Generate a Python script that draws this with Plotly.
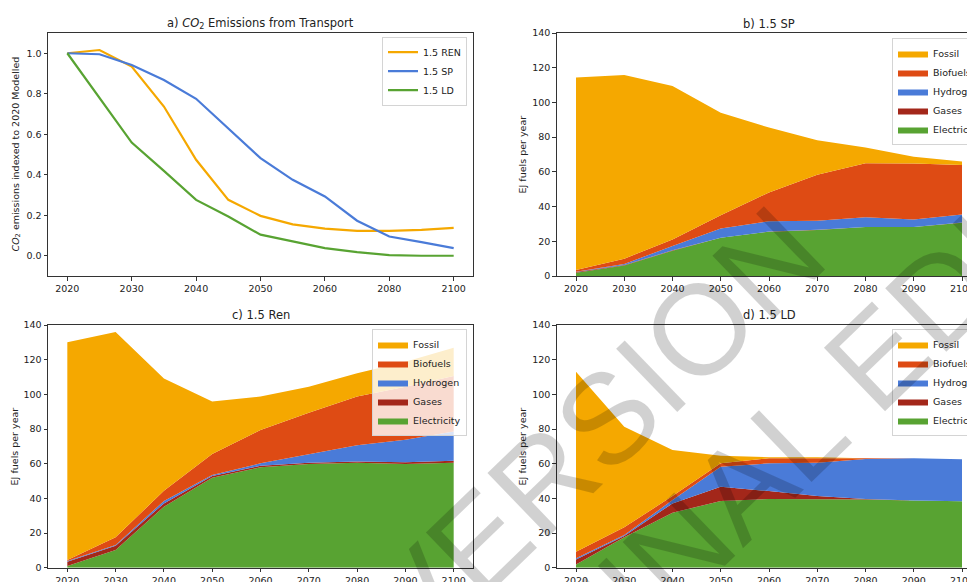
import plotly.graph_objects as go

FONT = "DejaVu Sans"

# ---- data ----
# a) CO2 emissions indexed to 2020
co2_years = ["2020", "2025", "2030", "2035", "2040", "2045", "2050",
             "2055", "2060", "2070", "2080", "2090", "2100"]
co2_ticks = ["2020", "2030", "2040", "2050", "2060", "2080", "2100"]
co2_ren = [1.0, 1.016, 0.934, 0.737, 0.474, 0.276, 0.197, 0.155, 0.134, 0.123, 0.123, 0.128, 0.138]
co2_sp = [1.0, 0.995, 0.942, 0.868, 0.775, 0.630, 0.482, 0.375, 0.293, 0.173, 0.095, 0.067, 0.038]
co2_ld = [1.0, 0.778, 0.559, 0.419, 0.276, 0.194, 0.104, 0.071, 0.038, 0.018, 0.003, 0.0, 0.0]

# fuel use, EJ per year
years = [2020, 2030, 2040, 2050, 2060, 2070, 2080, 2090, 2100]

sp_electricity = [1.9, 6.0, 14.6, 22.0, 25.5, 26.5, 28.2, 28.2, 30.7]
sp_gases = [0.4, 0.3, 0.2, 0.1, 0.1, 0.1, 0.1, 0.1, 0.1]
sp_hydrogen = [0.2, 0.6, 2.5, 5.3, 6.0, 5.2, 5.6, 4.3, 4.7]
sp_biofuels = [1.0, 3.1, 3.7, 7.6, 16.5, 26.5, 31.1, 32.2, 28.5]
sp_fossil = [110.8, 105.8, 88.5, 59.0, 37.4, 19.9, 9.0, 3.9, 2.0]

ren_electricity = [1.0, 10.2, 35.2, 51.9, 57.9, 59.8, 60.6, 59.8, 60.6]
ren_gases = [2.5, 2.5, 1.9, 1.0, 0.9, 0.8, 0.7, 1.0, 1.1]
ren_hydrogen = [0.3, 0.4, 1.4, 0.6, 1.4, 4.8, 9.3, 13.0, 16.8]
ren_biofuels = [0.6, 4.4, 5.9, 12.1, 19.2, 24.0, 28.1, 30.6, 32.1]
ren_fossil = [125.6, 118.5, 64.8, 30.2, 19.3, 15.0, 13.4, 14.4, 16.3]

ld_electricity = [1.9, 17.5, 31.7, 38.5, 39.6, 39.4, 39.4, 38.7, 38.3]
ld_gases = [2.9, 0.8, 5.4, 8.2, 4.6, 1.9, 0.2, 0.0, 0.0]
ld_hydrogen = [0.6, 0.5, 1.9, 11.6, 16.0, 19.3, 23.1, 24.4, 24.2]
ld_biofuels = [3.8, 4.5, 2.3, 1.9, 2.9, 2.5, 0.4, 0.0, 0.0]
ld_fossil = [103.9, 58.0, 26.6, 4.4, 0.6, 0.6, 0.0, 0.0, 0.0]

fuel_names = ["Electricity", "Gases", "Hydrogen", "Biofuels", "Fossil"]
fuel_colors = ["#58a332", "#a3271a", "#4a7bd8", "#de4b14", "#f5a800"]

W, H = 975, 582
PAGE_OFFSET = 8  # the page body margin shifts the figure down and right


# helpers: screen pixels (as measured on the reference) -> paper fractions
def px_x(p):
    return (p - PAGE_OFFSET) / W


def px_y(p):
    return (H - (p - PAGE_OFFSET)) / H


fig = go.Figure()

# panel a: lines
for name, vals, col in [("1.5 REN", co2_ren, "#f5a800"),
                        ("1.5 SP", co2_sp, "#4a7bd8"),
                        ("1.5 LD", co2_ld, "#58a332")]:
    fig.add_trace(go.Scatter(x=co2_years, y=vals, name=name, mode="lines",
                             line=dict(color=col, width=2.2),
                             xaxis="x", yaxis="y", legend="legend"))

# panels b, c, d: stacked areas
panels = [
    ("x2", "y2", "legend2", "sp",
     [sp_electricity, sp_gases, sp_hydrogen, sp_biofuels, sp_fossil]),
    ("x3", "y3", "legend3", "ren",
     [ren_electricity, ren_gases, ren_hydrogen, ren_biofuels, ren_fossil]),
    ("x4", "y4", "legend4", "ld",
     [ld_electricity, ld_gases, ld_hydrogen, ld_biofuels, ld_fossil]),
]
for xa, ya, leg, grp, series in panels:
    for name, vals, col in zip(fuel_names, series, fuel_colors):
        fig.add_trace(go.Scatter(x=years, y=vals, name=name, mode="lines",
                                 stackgroup=grp, line=dict(width=0, color=col),
                                 fillcolor=col, xaxis=xa, yaxis=ya, legend=leg))

axis_style = dict(showline=True, mirror=True, linecolor="#333333", linewidth=1,
                  ticks="outside", ticklen=3.5, tickcolor="#333333",
                  showgrid=False, zeroline=False,
                  tickfont=dict(family=FONT, size=9.5, color="#222222"))

dom_left = [px_x(48), px_x(473)]
dom_right = [px_x(556.7), px_x(981.3)]
dom_top = [px_y(276), px_y(33)]
dom_bot = [px_y(567.7), px_y(325)]

legend_style = dict(bgcolor="rgba(255,255,255,0.8)", bordercolor="#d4d4d4",
                    borderwidth=1, font=dict(family=FONT, size=9.5, color="#222222"))

fig.update_layout(
    width=W, height=H,
    margin=dict(l=0, r=0, t=0, b=0, autoexpand=False),
    paper_bgcolor="white", plot_bgcolor="white",
    font=dict(family=FONT, color="#222222"),
    xaxis=dict(axis_style, domain=dom_left, anchor="y", type="category",
               range=[-0.6, 12.6], tickvals=co2_ticks),
    yaxis=dict(axis_style, domain=dom_top, anchor="x", range=[-0.1, 1.1],
               tickvals=[0, 0.2, 0.4, 0.6, 0.8, 1.0], tickformat=".1f"),
    xaxis2=dict(axis_style, domain=dom_right, anchor="y2",
                range=[2016, 2104], tickvals=years),
    yaxis2=dict(axis_style, domain=dom_top, anchor="x2", range=[0, 140], dtick=20),
    xaxis3=dict(axis_style, domain=dom_left, anchor="y3",
                range=[2016, 2104], tickvals=years),
    yaxis3=dict(axis_style, domain=dom_bot, anchor="x3", range=[0, 140], dtick=20),
    xaxis4=dict(axis_style, domain=dom_right, anchor="y4",
                range=[2016, 2104], tickvals=years),
    yaxis4=dict(axis_style, domain=dom_bot, anchor="x4", range=[0, 140], dtick=20),
    legend=dict(legend_style, x=px_x(467), y=px_y(36.7), xanchor="right", yanchor="top"),
    legend2=dict(legend_style, x=px_x(892), y=px_y(38), xanchor="left",
                 yanchor="top", traceorder="reversed"),
    legend3=dict(legend_style, x=px_x(467), y=px_y(329), xanchor="right",
                 yanchor="top", traceorder="reversed"),
    legend4=dict(legend_style, x=px_x(892), y=px_y(329), xanchor="left",
                 yanchor="top", traceorder="reversed"),
)

titles = [
    ("a) <i>CO</i><sub>2</sub> Emissions from Transport", 260.5, 23.5),
    ("b) 1.5 SP", 769, 23.5),
    ("c) 1.5 Ren", 260.5, 315),
    ("d) 1.5 LD", 769, 315),
]
for text, x, y in titles:
    fig.add_annotation(text=text, x=px_x(x), y=px_y(y), xref="paper", yref="paper",
                       showarrow=False, xanchor="center", yanchor="middle",
                       font=dict(family=FONT, size=11.5, color="#222222"))

ytitles = [
    ("<i>CO</i><sub>2</sub> emissions indexed to 2020 Modelled", 16, 154.5),
    ("EJ fuels per year", 522, 154.5),
    ("EJ fuels per year", 14, 446.4),
    ("EJ fuels per year", 522, 446.4),
]
for text, x, y in ytitles:
    fig.add_annotation(text=text, x=px_x(x), y=px_y(y), xref="paper", yref="paper",
                       showarrow=False, textangle=-90, xanchor="center", yanchor="middle",
                       font=dict(family=FONT, size=9.5, color="#222222"))

# watermark
for text, x, y in [("VERSION", 594, 430), ("FINAL EDITS", 840, 392)]:
    fig.add_annotation(text=text, x=px_x(x), y=px_y(y), xref="paper", yref="paper",
                       showarrow=False, textangle=-44, xanchor="center", yanchor="middle",
                       font=dict(family="Liberation Sans", size=128, color="rgba(0,0,0,0.18)"))

fig.write_html("out.html")
